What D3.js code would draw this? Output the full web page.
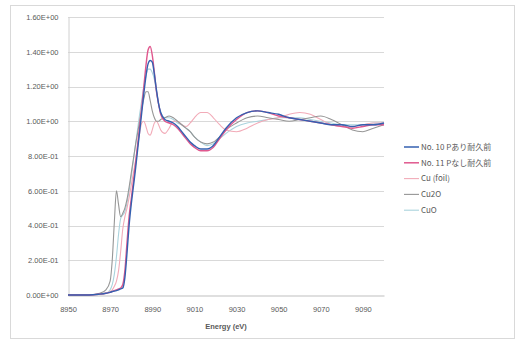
<!DOCTYPE html>
<html>
<head>
<meta charset="utf-8">
<script src="https://cdn.jsdelivr.net/npm/d3@7"></script>
<style>
  body { margin: 0; background: #fff; }
  text { font-family: "Liberation Sans", Arial, sans-serif; fill: #595959; }
  .legend text { font-family: "Noto Sans CJK JP", sans-serif; }
</style>
</head>
<body>
<script>
// Energy grid (eV) shared by all series
var energy = [8950, 8960, 8965, 8968, 8970, 8971, 8972, 8973, 8974, 8975, 8976, 8977, 8978, 8979, 8980,
    8981, 8982, 8983, 8984, 8985, 8986, 8987, 8988, 8989, 8990, 8991, 8992, 8993, 8994, 8996,
    8998, 9000, 9002, 9004, 9006, 9008, 9010, 9013, 9016, 9019, 9022, 9025, 9030, 9035, 9040,
    9045, 9050, 9055, 9060, 9065, 9070, 9075, 9080, 9085, 9090, 9095, 9100];

var seriesNames = ['No. 10 Pあり耐久前', 'No. 11 Pなし耐久前', 'Cu (foil)', 'Cu2O', 'CuO'];
var seriesColors = ['#3560b0', '#e0588e', '#f2abb8', '#969696', '#aad3dd'];

var no10 = [0, 0, 0.005, 0.01, 0.015, 0.02, 0.022, 0.025, 0.03, 0.035, 0.04, 0.10, 0.24, 0.40, 0.52,
    0.62, 0.72, 0.83, 0.94, 1.05, 1.16, 1.26, 1.33, 1.35, 1.34, 1.27, 1.18, 1.10, 1.05, 1.01,
    1.00, 0.99, 0.97, 0.94, 0.91, 0.88, 0.86, 0.84, 0.84, 0.86, 0.91, 0.96, 1.02, 1.05, 1.06,
    1.05, 1.04, 1.02, 1.01, 1.00, 0.99, 0.98, 0.98, 0.97, 0.98, 0.98, 0.99];

var no11 = [0, 0, 0.005, 0.01, 0.015, 0.02, 0.025, 0.03, 0.035, 0.04, 0.06, 0.14, 0.30, 0.45, 0.55,
    0.65, 0.75, 0.86, 0.97, 1.08, 1.20, 1.32, 1.41, 1.43, 1.38, 1.28, 1.17, 1.10, 1.04, 1.00,
    0.99, 0.98, 0.96, 0.93, 0.90, 0.87, 0.85, 0.83, 0.83, 0.85, 0.90, 0.95, 1.01, 1.05, 1.06,
    1.05, 1.03, 1.02, 1.01, 1.00, 0.99, 0.98, 0.97, 0.96, 0.97, 0.98, 0.98];

var cuFoil = [0, 0, 0.005, 0.01, 0.02, 0.03, 0.05, 0.08, 0.14, 0.25, 0.38, 0.45, 0.50, 0.56, 0.63,
    0.70, 0.77, 0.85, 0.93, 0.99, 1.00, 0.97, 0.93, 0.92, 0.95, 0.99, 1.00, 0.98, 0.95, 0.93,
    0.96, 1.00, 1.00, 0.98, 0.97, 0.99, 1.02, 1.05, 1.05, 1.02, 0.98, 0.95, 0.94, 0.96, 0.99,
    1.01, 1.02, 1.04, 1.05, 1.04, 1.01, 0.98, 0.97, 0.97, 0.98, 0.99, 0.99];

var cu2o = [0, 0, 0.01, 0.03, 0.08, 0.20, 0.42, 0.60, 0.52, 0.45, 0.47, 0.50, 0.55, 0.62, 0.70,
    0.78, 0.86, 0.93, 1.00, 1.07, 1.13, 1.17, 1.17, 1.12, 1.06, 1.02, 1.00, 1.00, 1.01, 1.02,
    1.03, 1.02, 1.00, 0.98, 0.96, 0.94, 0.91, 0.88, 0.87, 0.88, 0.91, 0.95, 0.99, 1.02, 1.03,
    1.02, 1.01, 1.00, 1.01, 1.02, 1.03, 1.01, 0.98, 0.95, 0.94, 0.96, 0.98];

var cuo = [0, 0, 0.005, 0.01, 0.03, 0.06, 0.12, 0.22, 0.35, 0.44, 0.46, 0.48, 0.53, 0.60, 0.68,
    0.77, 0.86, 0.95, 1.04, 1.12, 1.20, 1.26, 1.30, 1.30, 1.28, 1.24, 1.17, 1.10, 1.05, 1.02,
    1.02, 1.01, 0.99, 0.98, 0.96, 0.94, 0.91, 0.88, 0.86, 0.87, 0.90, 0.93, 0.97, 0.99, 1.00,
    1.01, 1.02, 1.02, 1.02, 1.01, 1.00, 0.99, 0.98, 0.98, 0.98, 0.99, 0.99];

var yTicks = [0, 0.2, 0.4, 0.6, 0.8, 1.0, 1.2, 1.4, 1.6];
var yTickLabels = ['0.00E+00', '2.00E-01', '4.00E-01', '6.00E-01', '8.00E-01',
    '1.00E+00', '1.20E+00', '1.40E+00', '1.60E+00'];
var xTicks = [8950, 8970, 8990, 9010, 9030, 9050, 9070, 9090];

var width = 520,
    height = 342;

var plot = { left: 68, right: 384, top: 17, bottom: 295 };

var svg = d3.select('body').append('svg')
    .attr('width', width)
    .attr('height', height);

// chart border
svg.append('rect')
    .attr('x', 10.5)
    .attr('y', 5.5)
    .attr('width', 504)
    .attr('height', 333)
    .attr('fill', '#fff')
    .attr('stroke', '#d9d9d9');

var x = d3.scaleLinear().domain([8950, 9100]).range([plot.left, plot.right]);
var y = d3.scaleLinear().domain([0, 1.6]).range([plot.bottom, plot.top]);

// horizontal gridlines
svg.append('g')
    .selectAll('line')
    .data(yTicks.slice(1))
    .enter().append('line')
    .attr('x1', plot.left)
    .attr('x2', plot.right)
    .attr('y1', function (d) { return Math.round(y(d)) + 0.5; })
    .attr('y2', function (d) { return Math.round(y(d)) + 0.5; })
    .attr('stroke', '#d9d9d9');

// y axis
var yAxis = svg.append('g')
    .attr('transform', 'translate(' + (plot.left + 0.5) + ',0)')
    .call(d3.axisLeft(y)
        .tickValues(yTicks)
        .tickSize(0)
        .tickPadding(10)
        .tickFormat(function (d, i) { return yTickLabels[i]; }));
yAxis.select('.domain').attr('stroke', '#d0d0d0');
yAxis.selectAll('text').attr('font-size', 7.5).attr('fill', '#595959')
    .style('font-family', '"Liberation Sans", Arial, sans-serif');

// x axis
var xAxis = svg.append('g')
    .attr('transform', 'translate(0,' + (plot.bottom + 0.5) + ')')
    .call(d3.axisBottom(x)
        .tickValues(xTicks)
        .tickSize(0)
        .tickPadding(11)
        .tickFormat(d3.format('d')));
xAxis.select('.domain').attr('stroke', '#bfbfbf');
xAxis.selectAll('text').attr('font-size', 7.5).attr('fill', '#595959')
    .style('font-family', '"Liberation Sans", Arial, sans-serif');

svg.append('text')
    .attr('x', (plot.left + plot.right) / 2)
    .attr('y', 329)
    .attr('text-anchor', 'middle')
    .attr('font-size', 7.5)
    .attr('font-weight', 'bold')
    .text('Energy (eV)');

// series lines
var allSeries = [no10, no11, cuFoil, cu2o, cuo];

var line = d3.line()
    .x(function (d) { return x(d[0]); })
    .y(function (d) { return y(d[1]); })
    .curve(d3.curveMonotoneX);

var drawOrder = [4, 2, 3, 1, 0];
drawOrder.forEach(function (k) {
    var pts = energy.map(function (e, i) { return [e, allSeries[k][i]]; });
    svg.append('path')
        .attr('d', line(pts))
        .attr('fill', 'none')
        .attr('stroke', seriesColors[k])
        .attr('stroke-width', k < 2 ? 1.4 : 1.1)
        .attr('stroke-linejoin', 'round');
});

// legend
var legend = svg.append('g').attr('class', 'legend');
var item = legend.selectAll('g')
    .data(seriesNames)
    .enter().append('g')
    .attr('transform', function (d, i) { return 'translate(404,' + (147 + i * 15.8) + ')'; });

item.append('line')
    .attr('x1', 0)
    .attr('x2', 15)
    .attr('stroke', function (d, i) { return seriesColors[i]; })
    .attr('stroke-width', function (d, i) { return i < 2 ? 1.5 : 1.1; });

item.append('text')
    .attr('x', 17)
    .attr('dy', '0.35em')
    .attr('font-size', 8)
    .attr('fill', '#595959')
    .text(function (d) { return d; });
</script>
</body>
</html>
